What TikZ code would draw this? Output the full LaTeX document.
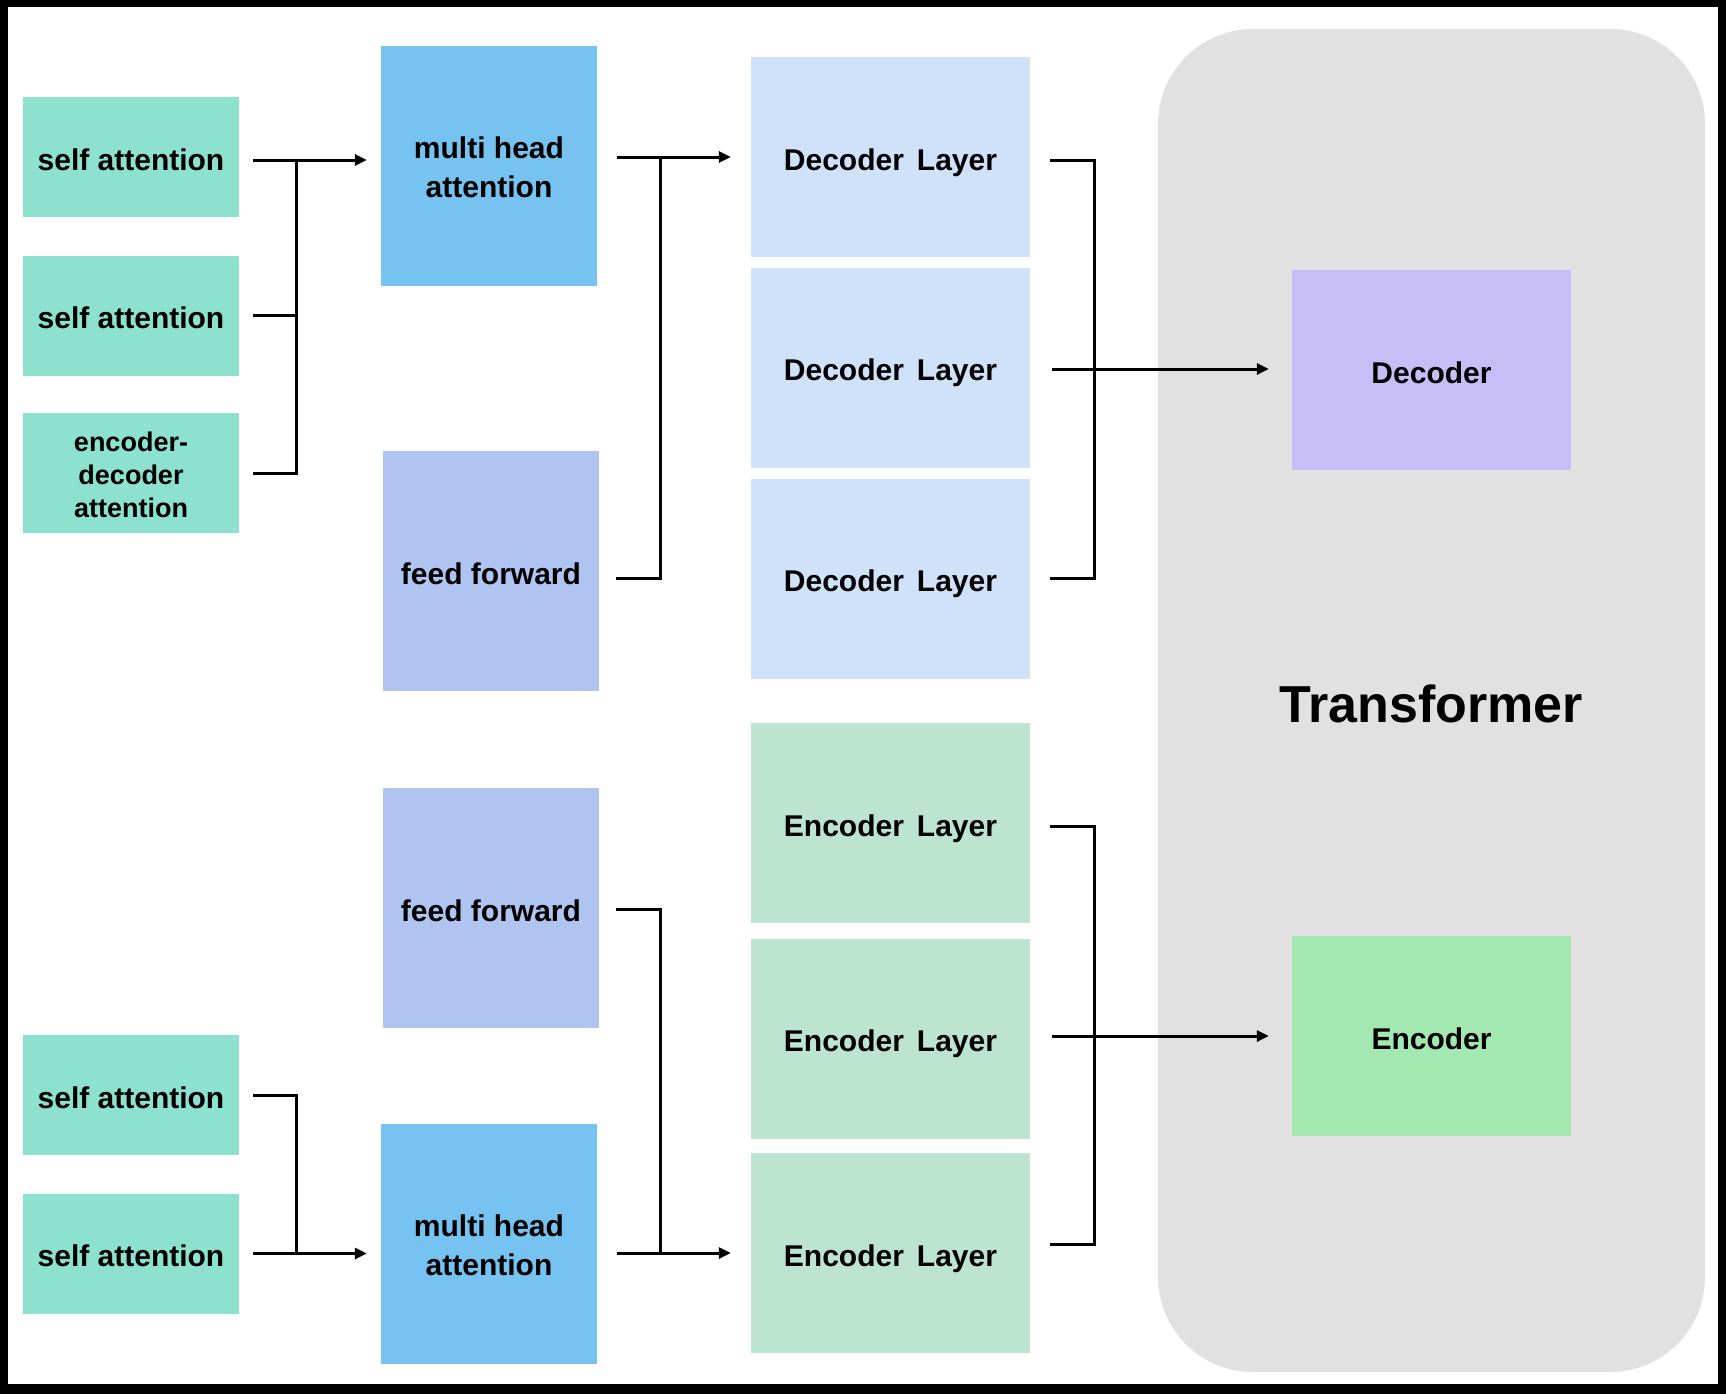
\documentclass[tikz,border=0pt]{standalone}
\usepackage{fontspec}
\setmainfont{Liberation Sans}
\usetikzlibrary{arrows.meta,calc}
\definecolor{cSA}{HTML}{8DE1CF}
\definecolor{cMHA}{HTML}{76C2F0}
\definecolor{cFF}{HTML}{B0C4F2}
\definecolor{cDL}{HTML}{CFE2FA}
\definecolor{cEL}{HTML}{BDE4D0}
\definecolor{cDEC}{HTML}{C8BEF7}
\definecolor{cENC}{HTML}{A3E8B0}
\definecolor{cGRAY}{HTML}{E1E1E1}
\newcommand{\twolines}[2]{\raisebox{-4.5pt}[\height][\depth]{\begin{tabular}{@{}c@{}}#1\\#2\end{tabular}}}
\begin{document}
\begin{tikzpicture}[x=1pt,y=-1pt,
  box/.style={rectangle,inner sep=0pt,align=center,font=\fontsize{30}{39}\selectfont\bfseries},
  oneline/.style={text height=26pt,text depth=0pt},
  sabox/.style={box,fill=cSA,minimum width=216pt,minimum height=120pt},
  mhabox/.style={box,fill=cMHA,minimum width=216pt,minimum height=240pt},
  ffbox/.style={box,oneline,fill=cFF,minimum width=216pt,minimum height=240pt},
  dlbox/.style={box,oneline,fill=cDL,minimum width=279pt,minimum height=200pt},
  elbox/.style={box,oneline,fill=cEL,minimum width=279pt,minimum height=200pt},
  conn/.style={line width=3pt,line join=miter},
  arr/.style={conn,-{Triangle[length=12pt,width=11pt]}}]
\useasboundingbox (0,0) rectangle (1726,1394);
\fill[black] (0,0) rectangle (1726,1394);
\fill[white] (8,7) rectangle (1718,1384);
\fill[cGRAY,rounded corners=95pt] (1158,29) rectangle (1705,1372);

% left column
\node[sabox,oneline] (sa1) at (131,157) {self attention};
\node[sabox,oneline] (sa2) at (131,315.5) {self attention};
\node[sabox,font=\fontsize{27}{33}\selectfont\bfseries] (ed) at (131,473) {\raisebox{-4.5pt}[\height][\depth]{\begin{tabular}{@{}c@{}}encoder-\\decoder\\attention\end{tabular}}};
\node[sabox,oneline] (sa3) at (131,1095) {self attention};
\node[sabox,oneline] (sa4) at (131,1253.5) {self attention};

% second column
\node[mhabox] (mhaT) at (489,166) {\twolines{multi head}{attention}};
\node[ffbox] (ffT) at (491,571) {feed forward};
\node[ffbox] (ffB) at (491,908) {feed forward};
\node[mhabox] (mhaB) at (489,1243.5) {\twolines{multi head}{attention}};

% layers
\node[dlbox] (dl1) at (890.5,157) {Decoder\hspace{13pt}Layer};
\node[dlbox] (dl2) at (890.5,367.5) {Decoder\hspace{13pt}Layer};
\node[dlbox] (dl3) at (890.5,578.5) {Decoder\hspace{13pt}Layer};
\node[elbox] (el1) at (890.5,823) {Encoder\hspace{13pt}Layer};
\node[elbox] (el2) at (890.5,1038.5) {Encoder\hspace{13pt}Layer};
\node[elbox] (el3) at (890.5,1253) {Encoder\hspace{13pt}Layer};

% transformer
\node[box,oneline,fill=cDEC,minimum width=279pt,minimum height=200pt] (dec) at (1431.5,370) {Decoder};
\node[box,oneline,fill=cENC,minimum width=279pt,minimum height=200pt] (enc) at (1431.5,1036) {Encoder};
\node[box,font=\fontsize{52}{60}\selectfont\bfseries] (tr) at (1431,704) {Transformer};

% group A
\coordinate (jA) at (296,160);
\draw[arr] ([xshift=14pt,yshift=-3pt]sa1.east) -- ($(sa1.east -| mhaT.west)+(-14,3)$);
\draw[conn] ([xshift=14pt]sa2.east) -- (sa2.east -| jA);
\draw[conn] ([xshift=14pt]ed.east) -| (jA);

% group B
\coordinate (jB) at (660,157);
\draw[arr] ($(mhaT.east |- dl1.west)+(20,0)$) -- ([xshift=-20pt]dl1.west);
\draw[conn] ([xshift=17pt,yshift=-7pt]ffT.east) -| (jB);

% group C
\coordinate (jC) at (1094,369);
\draw[conn] ([xshift=20pt,yshift=-3pt]dl1.east) -| (jC);
\draw[conn] ([xshift=20pt]dl3.east) -| (jC);
\draw[arr] ($(dl2.east |- jC)+(22,0)$) -- ($(dec.west |- jC)+(-23,0)$);

% group D
\coordinate (jD) at (1094,1036);
\draw[conn] ([xshift=20pt,yshift=-3pt]el1.east) -| (jD);
\draw[conn] ([xshift=20pt,yshift=9pt]el3.east) -| (jD);
\draw[arr] ($(el2.east |- enc.west)+(22,0)$) -- ([xshift=-23pt]enc.west);

% group E
\coordinate (jE) at (660,1253);
\draw[arr] ($(mhaB.east |- el3.west)+(20,0)$) -- ([xshift=-20pt]el3.west);
\draw[conn] ([xshift=17pt,yshift=-1pt]ffB.east) -| (jE);

% group F
\coordinate (jF) at (296,1253.5);
\draw[arr] ([xshift=14pt]sa4.east) -- ($(sa4.east -| mhaB.west)+(-14,0)$);
\draw[conn] ([xshift=14pt]sa3.east) -| (jF);
\end{tikzpicture}
\end{document}
